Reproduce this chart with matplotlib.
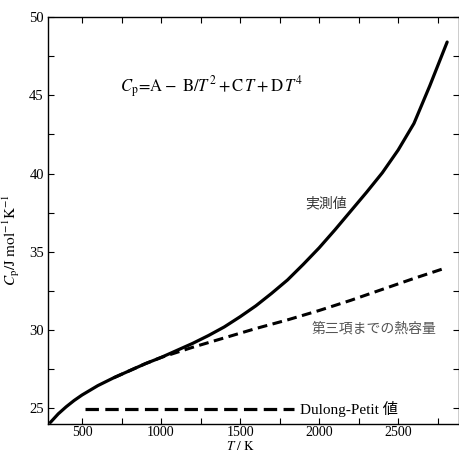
import matplotlib
matplotlib.use("Agg")
import matplotlib.pyplot as plt
from matplotlib.ticker import MultipleLocator

plt.rcParams["mathtext.fontset"] = "stix"

# measured heat capacity (実測値)
T_meas = [300, 350, 400, 450, 500, 600, 700, 800, 900, 1000, 1100, 1200, 1300,
          1400, 1500, 1600, 1700, 1800, 1900, 2000, 2100, 2200, 2300, 2400,
          2500, 2600, 2700, 2810]
Cp_meas = [24.1, 24.65, 25.1, 25.5, 25.85, 26.45, 26.95, 27.4, 27.85, 28.25,
           28.7, 29.15, 29.65, 30.2, 30.85, 31.55, 32.35, 33.2, 34.2, 35.25,
           36.4, 37.6, 38.8, 40.05, 41.5, 43.2, 45.6, 48.4]

# heat capacity up to third term (第三項までの熱容量)
T_three = [700, 800, 900, 1000, 1200, 1400, 1600, 1800, 2000, 2200, 2400, 2600, 2780]
Cp_three = [26.95, 27.4, 27.85, 28.25, 28.9, 29.5, 30.1, 30.65, 31.25, 31.9,
            32.6, 33.3, 33.9]

# Dulong-Petit value
T_dp = [520, 1840]
Cp_dp = [24.95, 24.95]

x_ticks = [500, 1000, 1500, 2000, 2500]
y_ticks = [25, 30, 35, 40, 45, 50]

serif = ["Liberation Serif", "DejaVu Serif"]
jp = ["Noto Sans CJK JP", "DejaVu Sans"]

W, H = 460, 454
fig = plt.figure(figsize=(W / 100, H / 100), dpi=100)
ax = fig.add_axes([48 / W, 1 - 424 / H, (459 - 48) / W, (424 - 17) / H])

ax.plot(T_meas, Cp_meas, color="black", lw=2.3, solid_capstyle="round",
        solid_joinstyle="round")
ax.plot(T_three, Cp_three, color="black", lw=2.2, linestyle=(0, (3.2, 1.8)))
ax.plot(T_dp, Cp_dp, color="black", lw=2.3, linestyle=(0, (4.2, 2.0)))

ax.set_xlim(285, 2885)
ax.set_ylim(24, 50)
ax.set_xticks(x_ticks)
ax.set_yticks(y_ticks)
ax.xaxis.set_minor_locator(MultipleLocator(250))
ax.yaxis.set_minor_locator(MultipleLocator(2.5))
ax.tick_params(which="both", direction="in", top=True, right=True,
               length=4, width=0.8, labelsize=10.5, pad=3)
ax.tick_params(axis="x", pad=1.5, labelsize=10)
for lab in ax.get_xticklabels() + ax.get_yticklabels():
    lab.set_family(serif)
for sp in ax.spines.values():
    sp.set_linewidth(1.0)

ax.text(740, 45.5, r"$C_{\rm p}\!=\!\mathrm{A}-\ \mathrm{B}/T^{2}+\mathrm{C}\,T+\mathrm{D}\,T^{4}$",
        fontsize=12, ha="left", va="center")
ax.text(2044, 38.1, "実測値", family=jp, fontsize=10, ha="center", va="center",
        color="#333333")
ax.text(1950, 30.1, "第三項までの熱容量", family=jp, fontsize=10, ha="left",
        va="center", color="#555555")
ax.text(1880, 24.95, "Dulong-Petit 値", family=serif + jp, fontsize=11,
        ha="left", va="center")

fig.text(240 / W, 1 - 453 / H, r"$T\ /\ \mathrm{K}$", fontsize=9.5,
         ha="center", va="bottom")
fig.text(11 / W, 1 - 240 / H, r"$C_{\rm p}/\mathrm{J\ mol^{-1}K^{-1}}$",
         fontsize=11, rotation=90, ha="center", va="center")

fig.savefig("out.png", dpi=100)
